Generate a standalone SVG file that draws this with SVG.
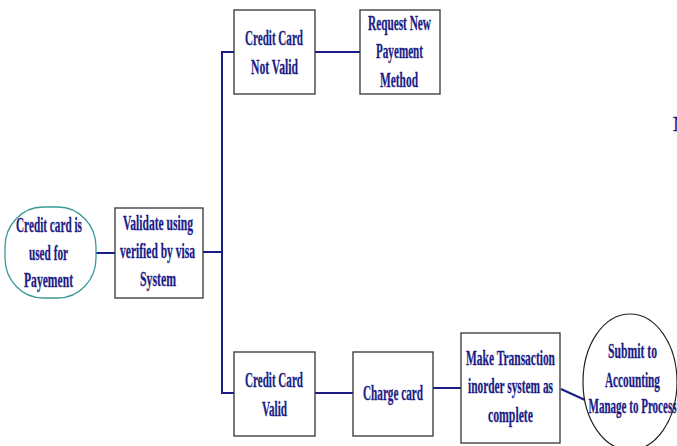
<svg xmlns="http://www.w3.org/2000/svg" width="677" height="446" viewBox="0 0 677 446">
<style>
.box{fill:#fff;stroke:#333;stroke-width:1.3}
.t{font-family:"Liberation Serif","Times New Roman",serif;font-weight:bold;font-size:22px;fill:#1c1c86;stroke:#1c1c86;stroke-width:0.3;text-anchor:middle}
.c{fill:none;stroke:#1c1c86;stroke-width:2}
</style>
<rect width="677" height="446" fill="#fff"/>
<g id="connectors">
<line class="c" x1="89" y1="253" x2="115" y2="253"/>
<line class="c" x1="203" y1="252" x2="222" y2="252"/>
<polyline class="c" points="234,52 222,52 222,393 234,393"/>
<line class="c" x1="315" y1="52" x2="360" y2="52"/>
<line class="c" x1="315" y1="393" x2="353" y2="393"/>
<line class="c" x1="433" y1="388" x2="461" y2="388"/>
<line class="c" x1="561" y1="389" x2="585" y2="400"/>
</g>
<g id="start">
<rect x="5" y="207" width="91" height="91" rx="38" ry="40" fill="#fff" stroke="#3a9a9a" stroke-width="1.3"/>
<text class="t" x="49" y="232" textLength="66" lengthAdjust="spacingAndGlyphs">Credit card is</text>
<text class="t" x="48.5" y="260" textLength="39" lengthAdjust="spacingAndGlyphs">used for</text>
<text class="t" x="48.5" y="287" textLength="49" lengthAdjust="spacingAndGlyphs">Payement</text>
</g>
<g id="validate">
<rect class="box" x="115" y="208" width="88" height="90"/>
<text class="t" x="158" y="230" textLength="70" lengthAdjust="spacingAndGlyphs">Validate using</text>
<text class="t" x="157.5" y="258" textLength="75" lengthAdjust="spacingAndGlyphs">verified by visa</text>
<text class="t" x="158" y="286" textLength="36" lengthAdjust="spacingAndGlyphs">System</text>
</g>
<g id="notvalid">
<rect class="box" x="234" y="10" width="81" height="84"/>
<text class="t" x="274" y="45" textLength="58" lengthAdjust="spacingAndGlyphs">Credit Card</text>
<text class="t" x="274.5" y="74" textLength="47" lengthAdjust="spacingAndGlyphs">Not Valid</text>
</g>
<g id="request">
<rect class="box" x="360" y="10" width="80" height="84"/>
<text class="t" x="399.5" y="30" textLength="63" lengthAdjust="spacingAndGlyphs">Request New</text>
<text class="t" x="399.5" y="58" textLength="47" lengthAdjust="spacingAndGlyphs">Payement</text>
<text class="t" x="399" y="87" textLength="38" lengthAdjust="spacingAndGlyphs">Method</text>
</g>
<g id="valid">
<rect class="box" x="234" y="352" width="81" height="84"/>
<text class="t" x="274" y="387" textLength="58" lengthAdjust="spacingAndGlyphs">Credit Card</text>
<text class="t" x="274.5" y="416" textLength="25" lengthAdjust="spacingAndGlyphs">Valid</text>
</g>
<g id="charge">
<rect class="box" x="353" y="352" width="80" height="84"/>
<text class="t" x="393" y="400" textLength="60" lengthAdjust="spacingAndGlyphs">Charge card</text>
</g>
<g id="transaction">
<rect class="box" x="461" y="333" width="99" height="110"/>
<text class="t" x="510.5" y="365" textLength="89" lengthAdjust="spacingAndGlyphs">Make Transaction</text>
<text class="t" x="510.5" y="393" textLength="85" lengthAdjust="spacingAndGlyphs">inorder system as</text>
<text class="t" x="510.5" y="422" textLength="45" lengthAdjust="spacingAndGlyphs">complete</text>
</g>
<g id="submit">
<ellipse cx="630" cy="382" rx="47" ry="68" fill="#fff" stroke="#222" stroke-width="1.2"/>
<text class="t" x="632.5" y="358" textLength="49" lengthAdjust="spacingAndGlyphs">Submit to</text>
<text class="t" x="632.5" y="387" textLength="55" lengthAdjust="spacingAndGlyphs">Accounting</text>
<text class="t" x="632.5" y="413" textLength="88" lengthAdjust="spacingAndGlyphs">Manage to Process</text>
</g>
<text class="t" x="673" y="131" style="text-anchor:start">N</text>
</svg>
